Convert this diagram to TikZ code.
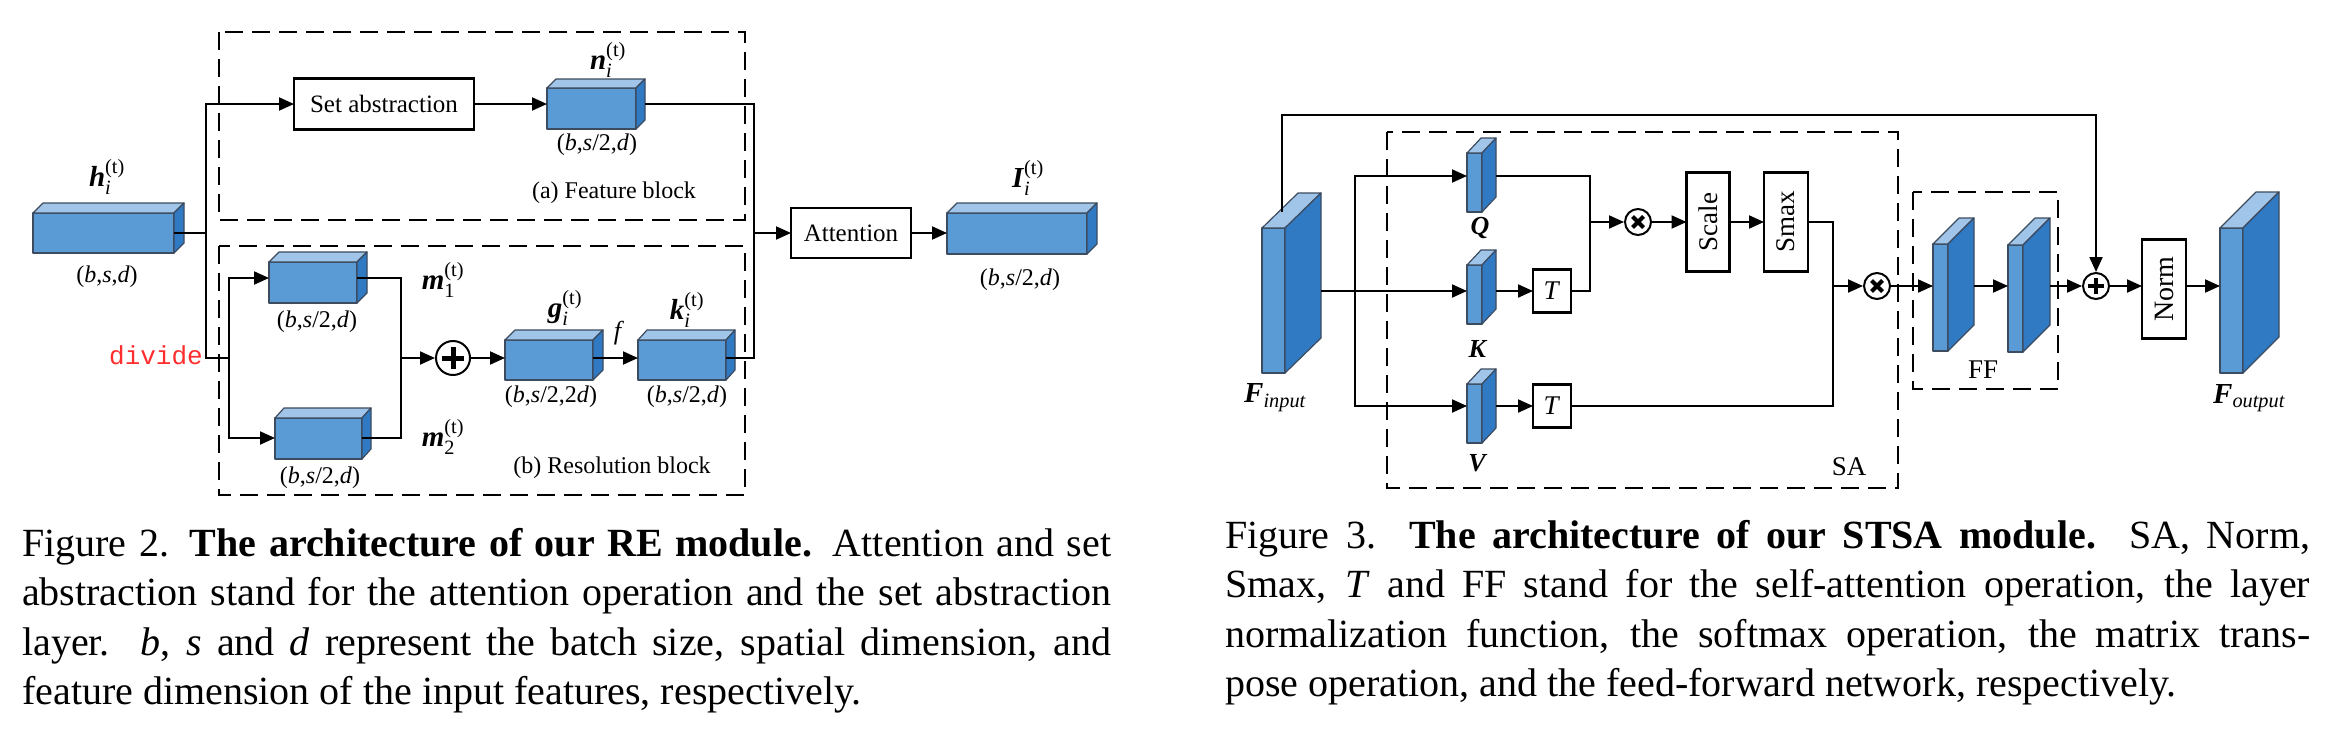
\documentclass[tikz,border=0pt]{standalone}
\usepackage{fontspec}
\usepackage{amsmath}
\setmainfont{Liberation Serif}
\setmonofont{Liberation Mono}
\usetikzlibrary{arrows.meta}
\definecolor{cfront}{RGB}{91,155,213}
\definecolor{ctop}{RGB}{160,197,232}
\definecolor{cside}{RGB}{48,122,196}
\definecolor{cedge}{RGB}{60,75,95}
\definecolor{divred}{RGB}{255,45,45}
\newcommand\mycube[7]{%
  \draw[cubeline,fill=cfront] (#2,#3) rectangle (#4,#5);
  \draw[cubeline,fill=ctop] (#2,#3) -- ({#2+#6},{#3-#7}) -- ({#4+#6},{#3-#7}) -- (#4,#3) -- cycle;
  \draw[cubeline,fill=cside] (#4,#3) -- ({#4+#6},{#3-#7}) -- ({#4+#6},{#5-#7}) -- (#4,#5) -- cycle;
  \node[anchorbox, minimum width={(#4-#2)*1pt}, minimum height={(#5-#3)*1pt}] (#1) at ({(#2+#4)/2},{(#3+#5)/2}) {};
  \node[anchorbox, minimum width={#6*1pt}, minimum height={(#5-#3+#7)*1pt}] (#1s) at ({#4+#6/2},{(#3+#5-#7)/2}) {};
}
\newcommand\capline[4]{\node[capnode] (#1) at (#2,#3) {#4};}
\begin{document}
\begin{tikzpicture}[x=1pt,y=-1pt,
  every node/.style={font=\fontsize{25}{30}\selectfont},
  cubeline/.style={draw=cedge,line width=1.2pt,line join=round},
  anchorbox/.style={inner sep=0,outer sep=0,draw=none},
  conn/.style={line width=2pt,draw=black},
  arr/.style={conn,-{Triangle[length=15pt,width=13pt]}},
  opbox/.style={draw=black,line width=2.2pt,inner sep=0,outer sep=0,fill=white},
  dbox/.style={draw=black,line width=2.4pt,dash pattern=on 18pt off 9pt},
  lab/.style={inner sep=0,font=\fontsize{29}{32}\selectfont},
  slab/.style={inner sep=0,font=\fontsize{26}{30}\selectfont},
  dim/.style={inner sep=0,font=\fontsize{24}{28}\selectfont},
  capnode/.style={anchor=base west,inner sep=0,font=\fontsize{40}{48}\selectfont},
]
\useasboundingbox (0,0) rectangle (2349,737);
\fill[white] (0,0) rectangle (2349,737);

% ================= LEFT FIGURE =================
\draw[dbox] (219,32) rectangle (745,220);
\draw[dbox] (219,246) rectangle (745,495);

\mycube{hbox}{33}{213}{174}{253}{10}{10}
\mycube{nbox}{547}{88}{636}{129}{9}{9}
\mycube{mone}{269}{262}{357}{303}{10}{10}
\mycube{mtwo}{275}{418}{362}{459}{9}{10}
\mycube{gbox}{505}{340}{593}{380}{10}{10}
\mycube{kbox}{638}{340}{726}{380}{9}{10}
\mycube{Ibox}{947}{213}{1087}{254}{10}{10}

\node[opbox,minimum width=180pt,minimum height=51pt] (sa) at (384,104) {Set abstraction};
\node[opbox,minimum width=120pt,minimum height=50pt] (att) at (851,233) {Attention};
\node[circle,draw=black,line width=2pt,fill=white,minimum size=34pt,inner sep=0] (plus) at (453,358) {};
\draw[line width=5pt] ([xshift=-11pt]plus.center) -- ([xshift=11pt]plus.center);
\draw[line width=5pt] ([yshift=-11pt]plus.center) -- ([yshift=11pt]plus.center);

\coordinate (j1) at (206,233);
\coordinate (j2) at (206,358);
\coordinate (j3) at (229,358);
\coordinate (L1) at (0,278);
\coordinate (L2) at (0,438);
\coordinate (j4) at (401,358);
\coordinate (j5) at (754,233);

\draw[conn] (hbox.east) -- (j1);
\draw[arr] (j1) |- (sa.west);
\draw[conn] (j1) -- (j2) -- (j3);
\draw[arr] (j3) |- (mone.west |- L1);
\draw[arr] (j3) |- (mtwo.west |- L2);
\draw[conn] (mone.east |- L1) -| (j4);
\draw[conn] (mtwo.east |- L2) -| (j4);
\draw[arr] (j4) -- (plus.west);
\draw[arr] (plus.east) -- (gbox.west |- plus.east);
\draw[arr] (gbox.east |- plus.east) -- (kbox.west |- plus.east);
\draw[arr] (sa.east) -- (nbox.west |- sa.east);
\draw[conn] (nboxs.east |- sa.east) -| (j5);
\draw[conn] (kbox.east |- plus.east) -| (j5);
\draw[arr] (j5) -- (att.west);
\draw[arr] (att.east) -- (Ibox.west |- att.east);

\node[lab] (hlab) at (107,177) {$\textbf{\textit{h}}_{\textit{i}}^{\textup{(t)}}$};
\node[dim] (hdim) at (107,277) {(\textit{b},\textit{s},\textit{d})};
\node[lab] (nlab) at (608,60) {$\textbf{\textit{n}}_{\textit{i}}^{\textup{(t)}}$};
\node[dim] (ndim) at (597,145) {(\textit{b},\textit{s}/2,\textit{d})};
\node[dim] (fblk) at (614,193) {(a) Feature block};
\node[dim] (rblk) at (612,468) {(b) Resolution block};
\node[lab] (m1lab) at (443,280) {$\textbf{\textit{m}}_{\textup{1}}^{\textup{(t)}}$};
\node[lab] (m2lab) at (443,437) {$\textbf{\textit{m}}_{\textup{2}}^{\textup{(t)}}$};
\node[dim] (m1dim) at (317,322) {(\textit{b},\textit{s}/2,\textit{d})};
\node[dim] (m2dim) at (320,478) {(\textit{b},\textit{s}/2,\textit{d})};
\node[lab] (glab) at (565,308) {$\textbf{\textit{g}}_{\textit{i}}^{\textup{(t)}}$};
\node[dim] (gdim) at (551,397) {(\textit{b},\textit{s}/2,2\textit{d})};
\node[lab] (klab) at (687,310) {$\textbf{\textit{k}}_{\textit{i}}^{\textup{(t)}}$};
\node[dim] (kdim) at (687,397) {(\textit{b},\textit{s}/2,\textit{d})};
\node[slab] (flab) at (619,333) {\textit{f}};
\node[inner sep=0,text=divred,font=\fontsize{26}{30}\selectfont\ttfamily] (divide) at (156,355) {divide};
\node[lab] (Ilab) at (1028,178) {$\textbf{\textit{I}}_{\textit{i}}^{\textup{(t)}}$};
\node[dim] (Idim) at (1020,280) {(\textit{b},\textit{s}/2,\textit{d})};

% ================= RIGHT FIGURE =================
\draw[dbox] (1387,132) rectangle (1898,488);
\draw[dbox] (1913,192) rectangle (2058,389);

\mycube{Fin}{1262}{228}{1285}{373}{36}{35}
\mycube{Qb}{1467}{153}{1482}{212}{14}{15}
\mycube{Kb}{1467}{265}{1482}{324}{14}{15}
\mycube{Vb}{1467}{384}{1482}{443}{14}{15}
\mycube{FFa}{1933}{244}{1948}{351}{26}{26}
\mycube{FFb}{2008}{245}{2023}{352}{27}{27}
\mycube{Fout}{2220}{228}{2243}{373}{36}{36}

\node[opbox,minimum width=38pt,minimum height=43pt,font=\fontsize{27}{30}\selectfont] (T1) at (1552,291) {\textit{T}};
\node[opbox,minimum width=38pt,minimum height=43pt,font=\fontsize{27}{30}\selectfont] (T2) at (1552,406) {\textit{T}};
\node[opbox,minimum width=43pt,minimum height=99pt,font=\fontsize{27}{30}\selectfont] (scale) at (1708,222) {\rotatebox{90}{Scale}};
\node[opbox,minimum width=44pt,minimum height=99pt,font=\fontsize{27}{30}\selectfont] (smax) at (1786,222) {\rotatebox{90}{Smax}};
\node[opbox,minimum width=44pt,minimum height=99pt,font=\fontsize{28}{30}\selectfont] (norm) at (2164,289) {\rotatebox{90}{Norm}};

\node[circle,draw=black,line width=2pt,fill=white,minimum size=26pt,inner sep=0] (ot1) at (1638,222) {};
\node[circle,draw=black,line width=2pt,fill=white,minimum size=26pt,inner sep=0] (ot2) at (1877,286) {};
\node[circle,draw=black,line width=2pt,fill=white,minimum size=26pt,inner sep=0] (plus2) at (2096,286) {};
\foreach \c in {ot1,ot2}{
  \draw[line width=4pt] ([shift={(-5.5,-5.5)}]\c.center) -- ([shift={(5.5,5.5)}]\c.center);
  \draw[line width=4pt] ([shift={(-5.5,5.5)}]\c.center) -- ([shift={(5.5,-5.5)}]\c.center);
}
\draw[line width=4pt] ([xshift=-8pt]plus2.center) -- ([xshift=8pt]plus2.center);
\draw[line width=4pt] ([yshift=-8pt]plus2.center) -- ([yshift=8pt]plus2.center);

\coordinate (fb) at (1282,212);
\coordinate (fbtop) at (1282,115);
\coordinate (b0) at (1355,291);
\coordinate (yQ) at (0,176);
\coordinate (yV) at (0,406);
\coordinate (j6) at (1590,222);
\coordinate (j7) at (1833,286);

\draw[arr] (fb) -- (fbtop) -| (plus2.north);
\draw[conn] (Fins.east |- b0) -- (b0);
\draw[arr] (b0) -- (Kb.west |- b0);
\draw[arr] (b0) |- (Qb.west |- yQ);
\draw[arr] (b0) |- (Vb.west |- yV);
\draw[arr] (Kbs.east |- b0) -- (T1.west);
\draw[arr] (Vbs.east |- yV) -- (T2.west);
\draw[conn] (Qbs.east |- yQ) -| (j6);
\draw[conn] (T1.east) -| (j6);
\draw[arr] (j6) -- (ot1.west);
\draw[arr] (ot1.east) -- (scale.west |- ot1.east);
\draw[arr] (scale.east) -- (smax.west);
\draw[conn] (smax.east) -| (j7);
\draw[conn] (T2.east) -| (j7);
\draw[arr] (j7) -- (ot2.west);
\draw[arr] (ot2.east) -- (FFa.west |- ot2.east);
\draw[arr] (FFas.east |- ot2.east) -- (FFb.west |- ot2.east);
\draw[arr] (FFbs.east |- ot2.east) -- (plus2.west);
\draw[arr] (plus2.east) -- (norm.west |- plus2.east);
\draw[arr] (norm.east |- plus2.east) -- (Fout.west |- plus2.east);

\node[slab] (Qlab) at (1480,228) {\textbf{\textit{Q}}};
\node[slab] (Klab) at (1478,349) {\textbf{\textit{K}}};
\node[slab] (Vlab) at (1478,463) {\textbf{\textit{V}}};
\node[lab] (Finlab) at (1275,398) {$\textbf{\textit{F}}_{\textit{input}}$};
\node[lab] (Foutlab) at (2249,398) {$\textbf{\textit{F}}_{\textit{output}}$};
\node[inner sep=0,font=\fontsize{27}{30}\selectfont] (SAlab) at (1849,467) {SA};
\node[inner sep=0,font=\fontsize{27}{30}\selectfont] (FFlab) at (1983,370) {FF};

% ================= CAPTIONS =================
\capline{cl1}{22}{556}{\makebox[1089pt][s]{Figure 2. \textbf{The architecture of our RE module.} Attention and set}}
\capline{cl2}{22}{605.5}{\makebox[1089pt][s]{abstraction stand for the attention operation and the set abstraction}}
\capline{cl3}{22}{655}{\makebox[1089pt][s]{layer.\ \ \textit{b}, \textit{s} and \textit{d} represent the batch size, spatial dimension, and}}
\capline{cl4}{22}{704.5}{feature dimension of the input features, respectively.}
\capline{cr1}{1225}{548}{\makebox[1085pt][s]{Figure 3. \textbf{The architecture of our STSA module.}\ \ SA, Norm,}}
\capline{cr2}{1225}{597.5}{\makebox[1085pt][s]{Smax, \textit{T} and FF stand for the self-attention operation, the layer}}
\capline{cr3}{1225}{647}{\makebox[1085pt][s]{normalization function, the softmax operation, the matrix trans-}}
\capline{cr4}{1225}{696.5}{pose operation, and the feed-forward network, respectively.}
\end{tikzpicture}
\end{document}
